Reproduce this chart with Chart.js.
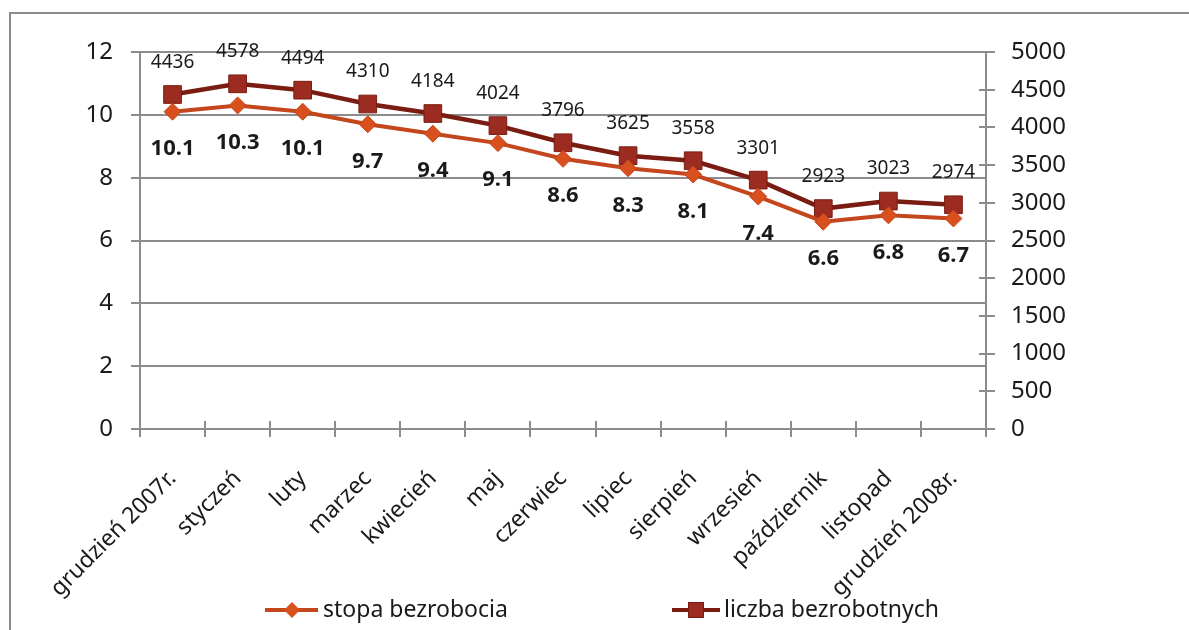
<!DOCTYPE html>
<html>
<head>
<meta charset="utf-8">
<script src="https://cdn.jsdelivr.net/npm/chart.js@4"></script>
<style>
  body { margin: 0; background: #fff; }
  #frame { position: absolute; left: 9px; top: 12px; width: 1200px; height: 700px; border: 2px solid #8c8c8c; box-sizing: border-box; }
  #wrap { position: absolute; left: 0; top: 0; width: 1189px; height: 630px; }
</style>
</head>
<body>
<div id="frame"></div>
<div id="wrap"><canvas id="myChart"></canvas></div>
<script>
const months = ["grudzień 2007r.", "styczeń", "luty", "marzec", "kwiecień", "maj", "czerwiec",
  "lipiec", "sierpień", "wrzesień", "październik", "listopad", "grudzień 2008r."];
const stopa = [10.1, 10.3, 10.1, 9.7, 9.4, 9.1, 8.6, 8.3, 8.1, 7.4, 6.6, 6.8, 6.7];
const liczba = [4436, 4578, 4494, 4310, 4184, 4024, 3796, 3625, 3558, 3301, 2923, 3023, 2974];
const seriesNames = ["stopa bezrobocia", "liczba bezrobotnych"];

const FONT = '"Noto Sans", sans-serif';
const GRID = "#8c8c8c";
const TXT = "#1a1a1a";
const C_STOPA = "#c4461c", C_STOPA_PT = "#d9501f";
const C_LICZ = "#7a1c12", C_LICZ_PT = "#9c2b21";

// etykiety danych
const labelPlugin = {
  id: "dataLabels",
  afterDatasetsDraw(chart) {
    const ctx = chart.ctx;
    ctx.save();
    ctx.textAlign = "center";
    ctx.textBaseline = "middle";
    ctx.fillStyle = TXT;
    ctx.font = "19px " + FONT;
    chart.getDatasetMeta(1).data.forEach((pt, i) => ctx.fillText(String(liczba[i]), pt.x, pt.y - 32));
    ctx.font = "bold 22px " + FONT;
    chart.getDatasetMeta(0).data.forEach((pt, i) => ctx.fillText(stopa[i].toFixed(1), pt.x, pt.y + 37));
    ctx.restore();
  }
};

// kreski osi przechodzące na drugą stronę
const crossTicks = {
  id: "crossTicks",
  beforeDatasetsDraw(chart) {
    const ctx = chart.ctx, a = chart.chartArea;
    const x = chart.scales.x, y1 = chart.scales.y1;
    ctx.save();
    ctx.strokeStyle = GRID;
    ctx.lineWidth = 2;
    ctx.beginPath();
    for (let i = 0; i <= months.length; i++) {
      const px = Math.round(x.getPixelForValue(i - 0.5));
      ctx.moveTo(px, a.bottom - 8);
      ctx.lineTo(px, a.bottom);
    }
    y1.ticks.forEach(t => {
      const py = Math.round(y1.getPixelForValue(t.value));
      ctx.moveTo(a.right - 7, py);
      ctx.lineTo(a.right, py);
    });
    ctx.stroke();
    ctx.restore();
  }
};

// legenda
const legendPlugin = {
  id: "myLegend",
  afterDraw(chart) {
    const ctx = chart.ctx;
    const y = 610;
    ctx.save();
    ctx.lineWidth = 4;
    // stopa
    ctx.strokeStyle = C_STOPA;
    ctx.beginPath(); ctx.moveTo(265, y); ctx.lineTo(318, y); ctx.stroke();
    ctx.fillStyle = C_STOPA_PT;
    ctx.beginPath();
    ctx.moveTo(292 - 8, y); ctx.lineTo(292, y - 8); ctx.lineTo(292 + 8, y); ctx.lineTo(292, y + 8); ctx.closePath();
    ctx.fill();
    // liczba
    ctx.strokeStyle = C_LICZ;
    ctx.beginPath(); ctx.moveTo(672, y); ctx.lineTo(720, y); ctx.stroke();
    ctx.fillStyle = C_LICZ_PT;
    ctx.fillRect(688, y - 8, 16, 16);
    ctx.lineWidth = 1;
    ctx.strokeRect(688.5, y - 7.5, 15, 15);
    ctx.fillStyle = TXT;
    ctx.font = "23px " + FONT;
    ctx.textBaseline = "middle";
    ctx.textAlign = "left";
    ctx.fillText(seriesNames[0], 323, y);
    ctx.fillText(seriesNames[1], 724, y);
    ctx.restore();
  }
};

const ctx = document.getElementById("myChart").getContext("2d");
new Chart(ctx, {
  type: "line",
  data: {
    labels: months,
    datasets: [
      {
        label: seriesNames[0],
        data: stopa,
        yAxisID: "y",
        borderColor: C_STOPA,
        borderWidth: 4,
        pointStyle: "rectRot",
        pointRadius: 8.5,
        pointBackgroundColor: C_STOPA_PT,
        pointBorderColor: C_STOPA,
        pointBorderWidth: 1,
        tension: 0
      },
      {
        label: seriesNames[1],
        data: liczba,
        yAxisID: "y1",
        borderColor: C_LICZ,
        borderWidth: 4.5,
        pointStyle: "rect",
        pointRadius: 12.5,
        pointBackgroundColor: C_LICZ_PT,
        pointBorderColor: C_LICZ,
        pointBorderWidth: 1,
        tension: 0
      }
    ]
  },
  options: {
    responsive: true,
    maintainAspectRatio: false,
    animation: false,
    layout: { padding: { top: 52, left: 0, right: 0, bottom: 0 } },
    plugins: {
      legend: { display: false },
      tooltip: { enabled: false }
    },
    scales: {
      x: {
        offset: true,
        grid: { drawOnChartArea: false, color: GRID, lineWidth: 2, tickLength: 8, offset: true },
        border: { color: GRID, width: 2 },
        ticks: { color: TXT, font: { family: FONT, size: 23 }, minRotation: 45, maxRotation: 45, padding: 28, autoSkip: false },
        afterFit: s => { s.height = 201; }
      },
      y: {
        position: "left",
        min: 0, max: 12,
        ticks: { stepSize: 2, color: TXT, font: { family: FONT, size: 24 }, padding: 18 },
        grid: { color: GRID, lineWidth: 2, tickLength: 9 },
        border: { color: GRID, width: 2 },
        afterFit: s => { s.width = 140; }
      },
      y1: {
        position: "right",
        min: 0, max: 5000,
        ticks: { stepSize: 500, color: TXT, font: { family: FONT, size: 24 }, padding: 16, callback: v => String(v) },
        grid: { drawOnChartArea: false, color: GRID, lineWidth: 2, tickLength: 9 },
        border: { color: GRID, width: 2 },
        afterFit: s => { s.width = 203; }
      }
    }
  },
  plugins: [crossTicks, labelPlugin, legendPlugin]
});
</script>
</body>
</html>
